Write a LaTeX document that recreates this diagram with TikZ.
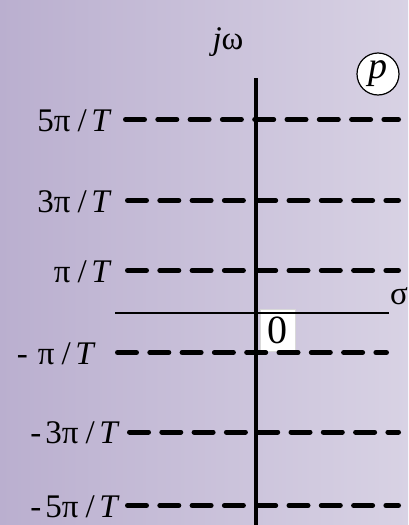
\documentclass[tikz,border=0pt]{standalone}
\usepackage{fontspec}
\setmainfont{Liberation Serif}
\newcommand{\slh}{\hspace{0.22em}/\hspace{0.14em}}
\begin{document}
\begin{tikzpicture}[x=1pt,y=-1pt,
  lbl/.style={font=\fontsize{33}{36}\selectfont, inner sep=0pt, anchor=base east},
  pole/.style={line width=5pt, line cap=round, dash pattern=on 19pt off 13.3pt, black},
  axisv/.style={line width=4pt, black},
  axish/.style={line width=2pt, black}]
\definecolor{bgL}{RGB}{186,175,207}
\definecolor{bgR}{RGB}{216,210,228}
\shade[left color=bgL, right color=bgR] (0,0) rectangle (408,525);
\useasboundingbox (0,0) rectangle (408,525);
% zero box
\node[draw=white!85!black, fill=white, line width=0.4pt, minimum width=35pt, minimum height=42pt, inner sep=0pt,
      font=\fontsize{40}{44}\selectfont] (zero) at (277.5,330.5) {0};
% sigma axis
\coordinate (sL) at (115,313);
\coordinate (sR) at (389,313);
\draw[axish] (sL) -- (sR);
\node[font=\fontsize{33}{36}\selectfont, inner sep=0pt, anchor=west] (sigma) at (390,296) {σ};
% dashed lines
\coordinate (a1) at (125.5,119.5); \coordinate (b1) at (398.5,119.5);
\coordinate (a2) at (127.5,200.5); \coordinate (b2) at (398.5,200.5);
\coordinate (a3) at (127.5,270.5); \coordinate (b3) at (398.5,270.5);
\coordinate (a4) at (117.5,352.5); \coordinate (b4) at (386.5,352.5);
\coordinate (a5) at (129.5,432);   \coordinate (b5) at (398.5,432);
\coordinate (a6) at (127.5,505.5); \coordinate (b6) at (398.5,505.5);
\foreach \i in {1,...,6}{\draw[pole] (a\i) -- (b\i);}
% labels
\node[lbl] (l1) at (112,131) {5π\slh\textit{T}};
\node[lbl] (l2) at (112,212) {3π\slh\textit{T}};
\node[lbl] (l3) at (112,282) {π\slh\textit{T}};
\node[lbl] (l4) at (96,364) {-\hspace{0.3em}π\slh\textit{T}};
\node[lbl] (l5) at (120,443.5) {-\hspace{0.12em}3π\slh\textit{T}};
\node[lbl] (l6) at (120,517) {-\hspace{0.12em}5π\slh\textit{T}};
% vertical axis
\coordinate (vT) at (256,78);
\coordinate (vB) at (256,525);
\draw[axisv] (vT) -- (vB);
\node[font=\fontsize{33}{36}\selectfont, inner sep=0pt] (jw) at (228,42) {\textit{j}ω};
\node[draw, circle, line width=1.2pt, minimum size=42pt, inner sep=0pt, fill=white,
      font=\fontsize{38}{40}\selectfont\itshape] (p) at (378,74) {p};
\end{tikzpicture}
\end{document}
